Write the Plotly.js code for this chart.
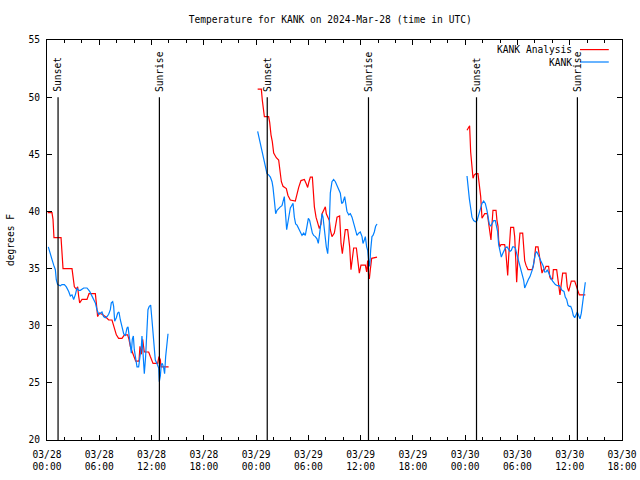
<!DOCTYPE html>
<html>
<head>
<meta charset="utf-8">
<script src="https://cdn.plot.ly/plotly-3.0.1.min.js"></script>
<style>html,body{margin:0;padding:0;background:#fff}#chart{width:640px;height:480px}</style>
</head>
<body>
<div id="chart"></div>
<script>
// Hours after 2024-03-28 00:00 UTC, temperatures in degrees F
const anaHours1 = [0.08,0.57,0.69,0.80,1.61,1.68,1.84,2.87,2.98,3.14,3.37,3.52,3.63,3.75,4.02,4.59,4.82,5.55,5.66,5.81,6.01,6.31,6.69,7.08,7.46,7.73,7.96,8.22,8.61,8.88,9.26,9.41,9.56,9.79,10.02,10.18,10.56,10.67,10.83,10.98,11.17,11.67,11.86,12.17,12.70,12.85,13.01,13.08,13.96];
const anaTemps1 = [39.9,39.9,39.3,37.7,37.7,36.6,35.0,35.0,34.5,33.4,33.2,33.4,32.6,32.0,32.3,32.3,32.8,32.8,32.0,30.8,31.1,31.0,30.8,30.5,30.5,29.9,29.2,28.9,28.9,29.2,29.2,28.8,28.2,27.7,27.3,26.9,26.9,28.2,27.5,28.8,27.7,27.7,27.3,26.7,26.7,27.3,27.0,26.4,26.4];
const anaHours2 = [24.18,24.60,24.72,24.87,24.95,25.44,25.56,25.71,25.86,26.02,26.32,26.59,26.71,26.90,27.09,27.47,27.66,27.93,28.50,28.70,28.89,29.15,29.54,29.77,29.92,30.07,30.23,30.46,30.53,30.69,30.88,31.11,31.26,31.45,31.57,31.76,31.95,32.06,32.22,32.41,32.52,32.71,32.98,33.13,33.29,33.59,33.75,33.90,34.13,34.24,34.51,34.74,34.89,35.05,35.20,35.51,35.66,35.85,36.04,36.54,36.69,36.81,36.92,37.00,37.11,37.27,37.88];
const anaTemps2 = [50.7,50.7,49.7,48.5,48.3,48.3,47.8,46.7,46.1,45.1,44.7,44.5,43.6,42.6,42.2,42.0,41.4,41.0,40.9,41.6,42.1,42.7,42.8,42.4,42.1,42.6,43.0,43.0,41.9,40.4,39.5,38.9,38.5,38.9,39.8,40.1,40.4,39.8,39.5,39.2,38.4,37.8,38.1,38.7,39.5,39.6,37.2,36.3,37.5,38.4,38.4,36.9,34.9,35.7,36.8,36.8,35.7,34.6,35.3,35.3,34.7,35.7,34.3,34.1,34.9,35.9,36.0];
const anaHours3 = [48.21,48.40,48.51,48.63,48.78,48.90,49.05,49.24,49.47,49.62,49.78,49.93,50.08,50.24,50.54,50.70,50.85,50.96,51.08,51.19,51.38,51.54,51.65,51.77,51.84,51.96,52.11,52.53,52.65,52.76,52.88,52.99,53.14,53.22,53.56,53.68,53.79,53.91,54.06,54.22,54.29,54.60,54.71,54.83,54.98,55.21,55.67,55.82,55.97,56.09,56.36,56.51,56.66,56.82,56.97,57.12,57.28,57.58,57.70,57.81,58.04,58.12,58.50,58.58,58.73,58.88,59.04,59.19,59.57,59.72,59.88,60.03,60.18,60.57,60.72,60.87,61.10,61.79];
const anaTemps3 = [47.1,47.4,47.5,45.2,43.6,42.9,43.2,43.3,43.3,42.1,41.3,39.4,39.6,39.8,39.8,38.8,38.1,37.5,38.9,40.1,40.1,40.1,39.2,38.7,37.5,36.9,37.1,37.1,36.6,35.5,34.4,36.0,37.5,38.6,38.6,37.8,36.0,33.8,36.0,37.2,38.1,38.1,37.1,35.7,35.3,34.9,34.9,35.2,36.0,36.9,36.9,36.0,35.5,34.6,34.9,34.9,35.2,35.2,34.3,34.1,34.1,34.9,34.9,34.3,33.4,32.7,33.7,34.6,34.6,33.4,33.0,33.6,33.9,33.9,33.6,33.2,32.7,32.7];

const obsHours1 = [0.15,0.38,0.57,0.77,0.96,1.07,1.22,1.53,1.72,1.99,2.22,2.49,2.68,2.87,3.06,3.25,3.44,3.63,3.83,4.21,4.59,4.90,5.16,5.36,5.55,5.74,5.93,6.12,6.31,6.50,6.69,6.89,7.08,7.27,7.38,7.54,7.65,7.77,7.96,8.11,8.26,8.42,8.61,8.80,8.99,9.18,9.30,9.45,9.56,9.68,9.79,9.91,10.02,10.14,10.33,10.52,10.63,10.71,10.83,10.90,11.02,11.17,11.32,11.48,11.59,11.74,11.90,12.05,12.17,12.32,12.43,12.62,12.82,12.89,13.01,13.12,13.24,13.39,13.50,13.62,13.77,13.89];
const obsTemps1 = [36.9,36.2,35.8,35.3,34.9,34.0,33.6,33.5,33.6,33.6,33.4,33.0,32.6,32.7,32.3,32.7,33.3,33.1,33.1,33.3,33.3,33.0,32.6,32.3,32.0,31.4,31.0,31.1,31.2,30.8,30.7,30.8,31.0,31.4,32.0,32.1,31.7,30.4,30.7,31.1,31.2,30.5,29.9,29.3,29.1,29.8,29.9,29.1,28.2,27.6,28.8,29.1,27.9,27.3,26.4,26.4,27.0,27.7,28.2,29.1,27.0,25.8,27.3,29.3,31.4,31.7,31.8,30.5,29.3,27.9,27.0,26.7,26.3,25.1,25.6,26.6,26.7,26.3,25.8,27.3,28.2,29.3];
const obsHours2 = [24.18,24.33,24.49,24.68,24.87,25.06,25.25,25.44,25.64,25.83,25.94,26.09,26.25,26.40,26.59,26.78,26.97,27.09,27.24,27.32,27.40,27.51,27.62,27.78,27.93,28.08,28.24,28.39,28.54,28.70,28.89,29.08,29.27,29.46,29.65,29.84,30.00,30.15,30.30,30.46,30.61,30.80,30.99,31.14,31.30,31.45,31.57,31.68,31.76,31.95,32.06,32.22,32.29,32.37,32.44,32.52,32.71,32.90,33.10,33.29,33.48,33.67,33.82,33.97,34.17,34.28,34.43,34.63,34.82,35.01,35.20,35.39,35.58,35.77,35.96,36.16,36.27,36.42,36.54,36.69,36.81,36.92,37.04,37.15,37.30,37.42,37.57,37.72,37.88];
const obsTemps2 = [47.0,46.5,45.8,45.2,44.6,43.9,43.3,43.2,43.0,42.6,42.1,41.0,39.8,40.1,40.3,40.4,40.5,40.8,41.3,40.4,39.2,38.4,38.9,39.8,40.3,40.5,40.7,39.5,38.9,38.8,38.5,38.2,37.9,38.1,37.9,38.7,39.4,39.2,38.7,38.1,37.9,37.8,37.6,37.2,38.1,39.2,39.8,39.5,38.9,37.5,36.9,36.3,36.9,38.1,39.8,41.6,42.6,42.8,42.6,42.3,42.0,41.6,40.7,40.8,41.3,40.7,40.0,39.7,39.8,39.5,38.9,38.5,37.9,38.1,38.2,37.8,37.2,37.5,37.8,36.9,36.6,35.7,35.2,36.6,37.8,37.9,38.2,38.7,38.9];
const obsHours3 = [48.21,48.32,48.48,48.63,48.78,48.97,49.17,49.36,49.47,49.62,49.78,49.93,50.12,50.31,50.50,50.62,50.77,50.93,51.08,51.27,51.46,51.58,51.73,51.84,51.98,52.15,52.30,52.46,52.61,52.80,52.99,53.14,53.30,53.45,53.60,53.76,53.91,54.06,54.22,54.37,54.52,54.71,54.83,54.98,55.13,55.29,55.44,55.59,55.75,55.90,56.05,56.20,56.36,56.51,56.66,56.82,56.97,57.12,57.28,57.43,57.58,57.73,57.89,58.04,58.19,58.35,58.58,58.81,58.96,59.11,59.34,59.49,59.65,59.80,59.95,60.11,60.26,60.41,60.57,60.72,60.87,61.02,61.18,61.33,61.48,61.64,61.79];
const obsTemps3 = [43.1,42.1,41.1,40.3,39.5,39.2,39.1,39.2,39.5,40.0,40.4,40.7,40.9,40.7,40.1,39.5,38.9,38.7,38.9,39.2,39.2,38.8,38.2,37.1,36.6,36.0,36.3,36.6,36.8,36.9,36.6,36.5,36.6,36.9,36.9,36.8,36.3,35.9,35.5,35.0,34.6,34.0,33.3,33.6,33.9,34.1,34.3,34.6,35.0,35.6,36.3,36.5,36.3,36.0,35.7,35.5,35.2,34.7,34.7,34.9,34.6,34.4,34.1,33.9,33.7,33.6,33.5,33.5,33.3,33.1,33.0,32.5,32.3,31.8,31.7,31.7,31.4,30.9,30.7,31.0,31.2,30.9,30.6,31.1,32.0,33.0,33.8];

const sunsetHours = [1.27, 25.28, 49.30];
const sunriseHours = [12.90, 36.90, 60.88];

const seriesNames = ['KANK Analysis', 'KANK'];
const seriesColors = ['#ff0000', '#0080ff'];

const BASE = Date.UTC(2024, 2, 28, 0, 0, 0);
function toDate(h) {
  return new Date(BASE + h * 3600000).toISOString().replace('T', ' ').slice(0, 19);
}
function joinSegments(hs, ts) {
  const x = [], y = [];
  hs.forEach((seg, i) => {
    if (i > 0) { x.push(toDate((hs[i-1][hs[i-1].length-1] + seg[0]) / 2)); y.push(null); }
    seg.forEach((h, j) => { x.push(toDate(h)); y.push(ts[i][j]); });
  });
  return {x, y};
}

const ana = joinSegments([anaHours1, anaHours2, anaHours3], [anaTemps1, anaTemps2, anaTemps3]);
const obs = joinSegments([obsHours1, obsHours2, obsHours3], [obsTemps1, obsTemps2, obsTemps3]);

const FONT = 'DejaVu Sans Mono, monospace';

const traces = [
  {x: ana.x, y: ana.y, type: 'scatter', mode: 'lines', name: seriesNames[0],
   line: {color: seriesColors[0], width: 1.2}, connectgaps: false, showlegend: false},
  {x: obs.x, y: obs.y, type: 'scatter', mode: 'lines', name: seriesNames[1],
   line: {color: seriesColors[1], width: 1.2}, connectgaps: false, showlegend: false}
];

const shapes = [];
const annotations = [];
function addSunLine(h, label) {
  shapes.push({type: 'line', xref: 'x', yref: 'y', x0: toDate(h), x1: toDate(h), y0: 20, y1: 50,
               line: {color: '#000', width: 1.2}});
  annotations.push({xref: 'x', yref: 'y', x: toDate(h), y: 50, text: label, showarrow: false,
                    textangle: -90, xanchor: 'center', yanchor: 'bottom', yshift: 3,
                    font: {family: FONT, size: 9.6, color: '#000'}});
}
sunsetHours.forEach(h => addSunLine(h, 'Sunset'));
sunriseHours.forEach(h => addSunLine(h, 'Sunrise'));

// gnuplot-style key: label right-aligned, sample line to its right
const keyRowsY = [0.976, 0.945];
seriesNames.forEach((name, i) => {
  annotations.push({xref: 'paper', yref: 'paper', x: 0.916, y: keyRowsY[i], text: name,
                    showarrow: false, xanchor: 'right', yanchor: 'middle',
                    font: {family: FONT, size: 9.6, color: '#000'}});
  shapes.push({type: 'line', xref: 'paper', yref: 'paper', x0: 0.927, x1: 0.977,
               y0: keyRowsY[i], y1: keyRowsY[i], line: {color: seriesColors[i], width: 1.2}});
});

const layout = {
  width: 640, height: 480,
  margin: {l: 47, r: 18, t: 40, b: 40, pad: 0},
  paper_bgcolor: '#fff', plot_bgcolor: '#fff',
  font: {family: FONT, size: 9.6, color: '#000'},
  title: {text: 'Temperature for KANK on 2024-Mar-28 (time in UTC)', x: 0.516, xanchor: 'center',
          y: 0.96, yanchor: 'middle', font: {family: FONT, size: 9.6, color: '#000'}},
  xaxis: {
    type: 'date',
    range: [toDate(0), toDate(66)],
    tick0: toDate(0), dtick: 6 * 3600000,
    tickformat: '%m/%d<br>%H:%M',
    ticks: 'inside', ticklen: 5, tickcolor: '#000', tickwidth: 1,
    minor: {dtick: 2 * 3600000, ticks: 'inside', ticklen: 3, tickcolor: '#000', showgrid: false},
    showline: true, linecolor: '#000', linewidth: 1, mirror: 'ticks',
    showgrid: false, zeroline: false, ticklabelstandoff: 5,
    tickfont: {family: FONT, size: 9.6, color: '#000'}
  },
  yaxis: {
    range: [20, 55], tick0: 20, dtick: 5,
    ticks: 'inside', ticklen: 5, tickcolor: '#000', tickwidth: 1,
    showline: true, linecolor: '#000', linewidth: 1, mirror: 'ticks',
    showgrid: false, zeroline: false, ticklabelstandoff: 4,
    tickfont: {family: FONT, size: 9.6, color: '#000'},
    title: {text: 'degrees F', standoff: 12, font: {family: FONT, size: 9.6, color: '#000'}}
  },
  showlegend: false,
  shapes: shapes,
  annotations: annotations
};

Plotly.newPlot('chart', traces, layout, {displayModeBar: false, staticPlot: true});
</script>
</body>
</html>
